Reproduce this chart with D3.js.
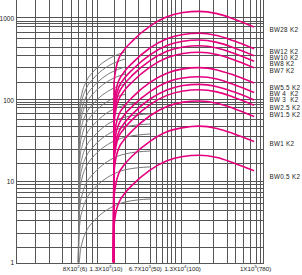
<!DOCTYPE html>
<html>
<head>
<meta charset="utf-8">
<script src="https://cdnjs.cloudflare.com/ajax/libs/d3/7.8.5/d3.min.js"></script>
<style>
  body { margin: 0; background: #fff; }
  svg text { font-family: "Liberation Sans", Arial, sans-serif; fill: #222; white-space: pre; }
</style>
</head>
<body>
<svg id="chart"></svg>
<script>
// grid values (the grid is not a clean log grid)
const xGrid = [1.7, 2.5, 3.6, 4.6, 5.66, 7, 8.4, 9.6, 15.3, 21, 30, 42, 50, 59, 68, 76, 85, 100,
  167, 247, 365, 457, 572, 695, 822, 920];
const yGrid = [1.54, 2.29, 3.34, 4.44, 5.46, 6.48, 7.46, 8.36, 9.21, 10,
  16.7, 24.9, 36.3, 48.2, 58, 69, 82, 90, 96, 103,
  169, 257, 362, 458, 581, 701, 824, 890, 958, 1055];

const yTicks = [1, 10, 100, 1000];
const xTicks = [6, 10, 50, 100, 780];
const xTickText = [["8X10", "2", "(6)"], ["1.3X10", "3", "(10)"], ["6.7X10", "3", "(50)"],
  ["1.3X10", "4", "(100)"], ["1X10", "5", "(780)"]];

// pink curves
const pinkNames = ["BW28 K2", "BW12 K2", "BW10 K2", "BW8 K2", "BW7 K2", "BW5.5 K2",
  "BW 4  K2", "BW 3  K2", "BW2.5 K2", "BW1.5 K2", "BW1 K2", "BW0.5 K2"];
const pinkX = [15.3, 15.5, 16.4, 17.8, 20, 26.4, 42, 68, 107, 167, 276, 432, 780];
const pinkY = [
  [1, 162, 248, 330, 402, 549, 816, 1069, 1208, 1250, 1172, 1016, 803],
  [1, 87, 133, 177, 215, 294, 438, 573, 647, 670, 628, 545, 431],
  [1, 72, 110, 146, 178, 243, 361, 473, 534, 553, 518, 449, 355],
  [1, 61, 93, 124, 151, 207, 307, 402, 454, 470, 441, 382, 302],
  [1, 51, 78, 103, 126, 172, 255, 334, 378, 391, 367, 318, 251],
  [1, 33, 50, 67, 81, 111, 165, 216, 244, 253, 237, 206, 163],
  [1, 25, 39, 51, 63, 86, 127, 167, 188, 195, 183, 158, 125],
  [1, 20, 31, 41, 50, 69, 103, 134, 152, 157, 147, 128, 101],
  [1, 17.5, 27, 36, 43, 59, 88, 115, 130, 135, 127, 110, 87],
  [1, 12.7, 19.5, 26, 31.5, 43, 64, 84, 95, 98, 92, 80, 63],
  [1, 6.2, 9.5, 12.7, 15.4, 21, 31, 41, 46, 48, 45, 39, 31],
  [1, 2.7, 4.2, 5.5, 6.7, 9.2, 13.7, 18, 20.3, 21, 19.7, 17, 13.5]
];

// gray curves (the upper ones stop where they run into the pink ones)
const grayX = [5.73, 5.82, 5.99, 6.34, 7.08, 8.61, 10.5, 13.9, 21.1, 42.4];
const grayY = [
  [1, 59, 90, 123, 168, 223, 273, 332, 394],
  [1, 48, 74, 101, 138, 183, 224, 273, 323],
  [1, 38, 59, 80, 110, 146, 178, 217, 257],
  [1, 31.5, 48, 66, 90, 120, 146, 178, 211],
  [1, 23.7, 36, 50, 68, 90, 110, 134, 159],
  [1, 17.8, 27, 37, 51, 68, 83, 101, 119],
  [1, 13, 20, 27, 37, 49, 60, 74, 87, 95],
  [1, 9.3, 14.3, 19.5, 26.6, 35, 43, 53, 62, 68],
  [1, 7, 10.7, 14.6, 20, 26.5, 32.4, 39.5, 47, 51],
  [1, 5.3, 8.1, 11, 15, 20, 24.4, 29.7, 35, 38.4],
  [1, 3.2, 5, 6.8, 9.3, 12.3, 15, 18.4, 21.8, 23.7],
  [1, 2.07, 3.2, 4.3, 5.9, 7.9, 9.6, 11.7, 13.9, 15.1],
  [0.6, 0.83, 1.27, 1.74, 2.38, 3.16, 3.86, 4.7, 5.57, 6.07]
];

const width = 302, height = 275;
const left = 16, right = 263, bottom = 262.5;

const svg = d3.select("#chart")
    .attr("width", width)
    .attr("height", height);

const x = d3.scaleLog().domain([1, 1000]).range([left, right]);
const y = d3.scaleLog().domain([1, 1000]).range([bottom, 19.2]);

const px = v => Math.round(v) + 0.5;

// grid
const grid = svg.append("g")
    .attr("stroke", "#555")
    .attr("stroke-width", 1)
    .attr("shape-rendering", "crispEdges");

grid.selectAll("line.vx")
    .data(xGrid.concat([1, 1000]))
    .join("line")
    .attr("class", "vx")
    .attr("x1", d => px(x(d)))
    .attr("x2", d => px(x(d)))
    .attr("y1", 0)
    .attr("y2", px(bottom));

grid.selectAll("line.hy")
    .data(yGrid.concat([1]))
    .join("line")
    .attr("class", "hy")
    .attr("x1", px(left))
    .attr("x2", px(right))
    .attr("y1", d => px(y(d)))
    .attr("y2", d => px(y(d)));

svg.append("clipPath")
    .attr("id", "plot")
    .append("rect")
    .attr("x", left)
    .attr("y", 0)
    .attr("width", right - left)
    .attr("height", bottom);

const line = d3.line()
    .x(d => x(d[0]))
    .y(d => y(d[1]))
    .curve(d3.curveMonotoneX);

const curves = svg.append("g").attr("clip-path", "url(#plot)").attr("fill", "none");

curves.selectAll("path.gray")
    .data(grayY)
    .join("path")
    .attr("class", "gray")
    .attr("stroke", "#777")
    .attr("stroke-width", 1)
    .attr("d", ys => line(ys.map((v, i) => [grayX[i], v])));

curves.selectAll("path.pink")
    .data(pinkY)
    .join("path")
    .attr("class", "pink")
    .attr("stroke", "#e6007e")
    .attr("stroke-width", 1.6)
    .attr("d", ys => line(ys.map((v, i) => [pinkX[i], v])));

// y labels
svg.selectAll("text.ytick")
    .data(yTicks)
    .join("text")
    .attr("class", "ytick")
    .attr("x", 14)
    .attr("y", d => y(d))
    .attr("dy", "0.35em")
    .attr("text-anchor", "end")
    .attr("font-size", 6.5)
    .text(d => d);

// x labels
const labelShift = [-5, 7.7, -10.5, 2, 1.5];
const xl = svg.selectAll("text.xtick")
    .data(xTicks)
    .join("text")
    .attr("class", "xtick")
    .attr("x", (d, i) => x(d) + labelShift[i])
    .attr("y", 270.5)
    .attr("text-anchor", "middle")
    .attr("font-size", 6.2);

xl.each(function (d, i) {
    const t = d3.select(this);
    const parts = xTickText[i];
    t.append("tspan").text(parts[0]);
    t.append("tspan").attr("dy", -2.4).attr("font-size", 4.4).text(parts[1]);
    t.append("tspan").attr("dy", 2.4).text(parts[2]);
});

// legend
const legendY = [29.3, 51.7, 57.3, 63.3, 70.7, 87.3, 93.3, 100, 107.3, 115, 144, 177];
svg.selectAll("text.legend")
    .data(pinkNames)
    .join("text")
    .attr("class", "legend")
    .attr("x", 269.5)
    .attr("y", (d, i) => legendY[i])
    .attr("dy", "0.35em")
    .attr("font-size", 6.3)
    .attr("letter-spacing", 0.3)
    .text(d => d);
</script>
</body>
</html>
